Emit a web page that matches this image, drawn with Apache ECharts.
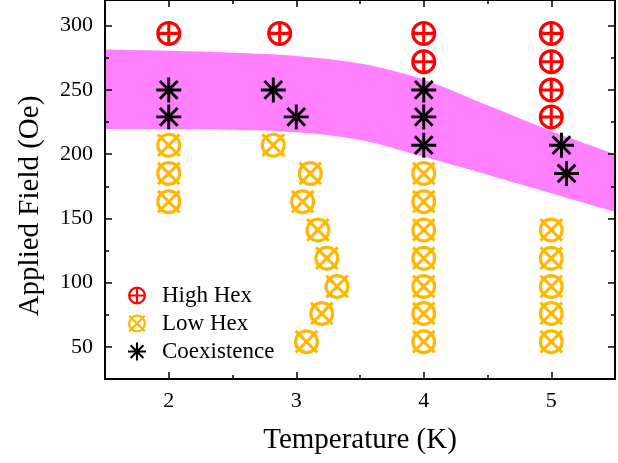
<!DOCTYPE html>
<html>
<head>
<meta charset="utf-8">
<script src="https://cdn.jsdelivr.net/npm/echarts@6/dist/echarts.min.js"></script>
<style>
html,body{margin:0;padding:0;background:#fff;}
#chart{width:618px;height:463px;}
</style>
</head>
<body>
<div id="chart"></div>
<script>
// ---- data ----
var highT = [2, 2.87, 4, 4, 5, 5, 5, 5];
var highB = [294, 294, 294, 272, 294, 272, 250, 229];

var lowT = [2, 2, 2, 2.82, 3.11, 3.05, 3.17, 3.24, 3.32, 3.20, 3.08, 4, 4, 4, 4, 4, 4, 4, 5, 5, 5, 5, 5];
var lowB = [207, 185, 163, 207, 185, 163, 141, 119, 97, 76, 54, 185, 163, 141, 119, 97, 76, 54, 141, 119, 97, 76, 54];

var coexT = [2, 2, 2.82, 3.0, 4, 4, 4, 5.08, 5.12];
var coexB = [250, 229, 250, 229, 250, 229, 207, 207, 185];

var bandT = [1.5, 2, 2.5, 3, 3.5, 4, 4.5, 5, 5.5];
var bandUpper = [281.5, 280.5, 279, 276.5, 270.5, 258, 238, 218, 200];
var bandLower = [219.5, 219.5, 219, 217, 211, 198, 184, 169.5, 155];

var seriesNames = ['High Hex', 'Low Hex', 'Coexistence'];
var xTitle = 'Temperature (K)';
var yTitle = 'Applied Field (Oe)';

// ---- symbols ----
var RING = 'M1 12A11 11 0 0 1 23 12A11 11 0 0 1 1 12Z M3.8 12A8.2 8.2 0 0 0 20.2 12A8.2 8.2 0 0 0 3.8 12Z ';
var SYM_HIGH = 'path://' + RING + 'M10.65 1.5H13.35V22.5H10.65Z M1.5 10.65H22.5V13.35H1.5Z';
var SYM_LOW = 'path://' + RING + 'M3.45 1.55L22.45 20.55L20.55 22.45L1.55 3.45Z M22.45 3.45L3.45 22.45L1.55 20.55L20.55 1.55Z';
var SYM_COEX = 'path://M10.6 0H13.4V24H10.6Z M0 10.6H24V13.4H0Z M4.5 2.5L21.5 19.5L19.5 21.5L2.5 4.5Z M19.5 2.5L21.5 4.5L4.5 21.5L2.5 19.5Z';

var RED = '#ff0000', ORANGE = '#ffb700', PINK = '#ff80ff';
var FONT = '"Liberation Serif", "Times New Roman", serif';

function pairs(a, b) { return a.map(function (v, i) { return [v, b[i]]; }); }

var axisLine = { show: true, onZero: false, lineStyle: { color: '#000', width: 2 } };
function xAx(pos, major, labels, extra) {
  var o = {
    type: 'value', position: pos, min: 1.5, max: 5.5, z: 10,
    axisLine: axisLine, splitLine: { show: false },
    axisTick: { show: true, inside: true, length: major ? 7 : 4, lineStyle: { color: '#000', width: 1.5 } },
    axisLabel: { show: labels }
  };
  if (major) { o.splitNumber = 4; } else { o.interval = 1; }
  return Object.assign(o, extra || {});
}
function yAx(pos, major, labels, extra) {
  var o = {
    type: 'value', position: pos, min: 25, max: 320, z: 10,
    axisLine: axisLine, splitLine: { show: false },
    axisTick: { show: true, inside: true, length: major ? 7 : 4, lineStyle: { color: '#000', width: 1.5 } },
    axisLabel: { show: labels }
  };
  if (major) { o.splitNumber = 6; } else { o.interval = 50; }
  return Object.assign(o, extra || {});
}

var chart = echarts.init(document.getElementById('chart'), null, { renderer: 'canvas' });
chart.setOption({
  animation: false,
  backgroundColor: '#fff',
  grid: { left: 105, right: -2, top: 0, bottom: 84, containLabel: false },
  xAxis: [
    xAx('bottom', true, true, {
      name: xTitle, nameLocation: 'middle', nameGap: 47,
      nameTextStyle: { fontFamily: FONT, fontSize: 29, color: '#000' },
      axisLabel: {
        show: true, margin: 11, fontFamily: FONT, fontSize: 22, color: '#000',
        formatter: function (v) { return Math.abs(v - Math.round(v)) < 1e-6 ? String(Math.round(v)) : ''; }
      }
    }),
    xAx('bottom', false, false),
    xAx('top', true, false),
    xAx('top', false, false)
  ],
  yAxis: [
    yAx('left', true, true, {
      name: yTitle, nameLocation: 'middle', nameGap: 60, nameRotate: 90,
      nameTextStyle: { fontFamily: FONT, fontSize: 29, color: '#000', padding: [0, 33, 0, 0] },
      axisLabel: {
        show: true, margin: 12, fontFamily: FONT, fontSize: 22, color: '#000',
        formatter: function (v) { return (Math.abs(v % 50) < 1e-6) ? String(v) : ''; }
      }
    }),
    yAx('left', false, false),
    yAx('right', true, false),
    yAx('right', false, false)
  ],
  legend: {
    show: true, orient: 'vertical', left: 123, top: 279,
    itemWidth: 40, itemHeight: 18, itemGap: 5,
    textStyle: { fontFamily: FONT, fontSize: 23, color: '#000' },
    data: [
      { name: seriesNames[0], icon: SYM_HIGH },
      { name: seriesNames[1], icon: SYM_LOW },
      { name: seriesNames[2], icon: SYM_COEX }
    ],
    selectedMode: false
  },
  series: [
    {
      type: 'line', name: 'bandUpper', data: pairs(bandT, bandUpper),
      smooth: 0.35, symbol: 'none', lineStyle: { width: 0, opacity: 0 },
      areaStyle: { color: PINK, opacity: 1, origin: 'start' }, z: 1, silent: true
    },
    {
      type: 'line', name: 'bandLower', data: pairs(bandT, bandLower),
      smooth: 0.35, symbol: 'none', lineStyle: { width: 0, opacity: 0 },
      areaStyle: { color: '#ffffff', opacity: 1, origin: 'start' }, z: 2, silent: true
    },
    {
      type: 'scatter', name: seriesNames[1], data: pairs(lowT, lowB),
      symbol: SYM_LOW, symbolSize: 25, itemStyle: { color: ORANGE, opacity: 1 }, z: 3
    },
    {
      type: 'scatter', name: seriesNames[0], data: pairs(highT, highB),
      symbol: SYM_HIGH, symbolSize: 25, itemStyle: { color: RED, opacity: 1 }, z: 3
    },
    {
      type: 'scatter', name: seriesNames[2], data: pairs(coexT, coexB),
      symbol: SYM_COEX, symbolSize: 25, itemStyle: { color: '#000', opacity: 1 }, z: 4
    }
  ]
});
</script>
</body>
</html>
